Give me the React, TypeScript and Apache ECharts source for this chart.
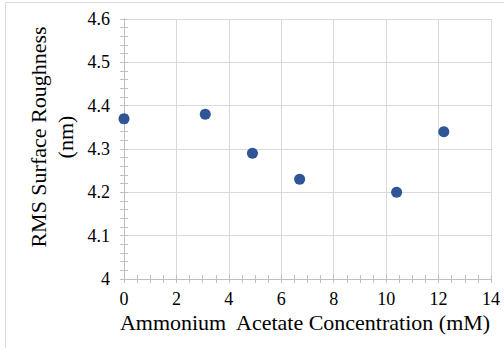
import React, { useEffect, useRef } from "react";
import * as echarts from "echarts";

const concentrations = [0, 3.1, 4.9, 6.7, 10.4, 12.2];
const roughness = [4.37, 4.38, 4.29, 4.23, 4.2, 4.34];
const xTitle = "Ammonium  Acetate Concentration (mM)";
const yTitle = "RMS Surface Roughness\n(nm)";

export default function App() {
  const ref = useRef<HTMLDivElement>(null);
  useEffect(() => {
    if (!ref.current) return;
    const chart = echarts.init(ref.current, null, { renderer: "svg" });
    const font = "'Liberation Serif', 'Times New Roman', serif";
    const axisColor = "#bfbfbf";
    const gridColor = "#d9d9d9";
    const rich = { t: { fontFamily: font, fontSize: 18, color: "#000" } };
    const baseX = (inside: boolean, show: boolean) => ({
      type: "value",
      min: 0,
      max: 14,
      interval: 2,
      gridIndex: 0,
      position: "bottom",
      axisLine: { show: true, lineStyle: { color: axisColor, width: 1 } },
      axisTick: { show: true, inside, length: 4, lineStyle: { color: axisColor } },
      minorTick: { show: true, splitNumber: 4, length: 4, lineStyle: { color: axisColor } },
      splitLine: { show: show, lineStyle: { color: gridColor, width: 1 } },
      axisLabel: {
        show: show,
        color: "#000",
        fontFamily: font,
        fontSize: 18,
        margin: 11,
        formatter: (v: number) => `{t|${v}}`,
        rich,
      },
    });
    const baseY = (inside: boolean, show: boolean) => ({
      type: "value",
      min: 4,
      max: 4.6,
      interval: 0.1,
      gridIndex: 0,
      position: "left",
      axisLine: { show: true, lineStyle: { color: axisColor, width: 1 } },
      axisTick: { show: true, inside, length: 4, lineStyle: { color: axisColor } },
      minorTick: { show: true, splitNumber: 5, length: 4, lineStyle: { color: axisColor } },
      splitLine: { show: show, lineStyle: { color: gridColor, width: 1 } },
      axisLabel: {
        show: show,
        color: "#000",
        fontFamily: font,
        fontSize: 18,
        margin: 14,
        formatter: (v: number) => `{t|${Math.round(v * 10) / 10}}`,
        rich,
      },
    });
    chart.setOption({
      animation: false,
      backgroundColor: "#fff",
      textStyle: { fontFamily: font },
      grid: { left: 124, right: 13, top: 19, bottom: 69 },
      xAxis: [baseX(false, true), baseX(true, false)],
      yAxis: [baseY(false, true), baseY(true, false)],
      series: [
        {
          type: "scatter",
          xAxisIndex: 0,
          yAxisIndex: 0,
          data: concentrations.map((c, i) => [c, roughness[i]]),
          symbolSize: 11,
          itemStyle: { color: "#2F5597", opacity: 1 },
        },
      ],
      graphic: [
        { type: "line", shape: { x1: 5.5, y1: 2.5, x2: 504, y2: 2.5 }, style: { stroke: "#d9d9d9", lineWidth: 1 } },
        { type: "line", shape: { x1: 5.5, y1: 2.5, x2: 5.5, y2: 348 }, style: { stroke: "#d9d9d9", lineWidth: 1 } },
        {
          type: "text",
          x: 305,
          y: 322,
          style: { text: xTitle, fill: "#000", font: `22px ${font}`, textAlign: "center", textVerticalAlign: "middle" },
        },
        {
          type: "text",
          x: 52,
          y: 137,
          rotation: Math.PI / 2,
          style: { text: yTitle, fill: "#000", font: `22px ${font}`, textAlign: "center", textVerticalAlign: "middle", lineHeight: 27 },
        },
      ],
    });
    return () => chart.dispose();
  }, []);
  return <div ref={ref} style={{ position: "absolute", left: 0, top: 0, width: 504, height: 348 }} />;
}
